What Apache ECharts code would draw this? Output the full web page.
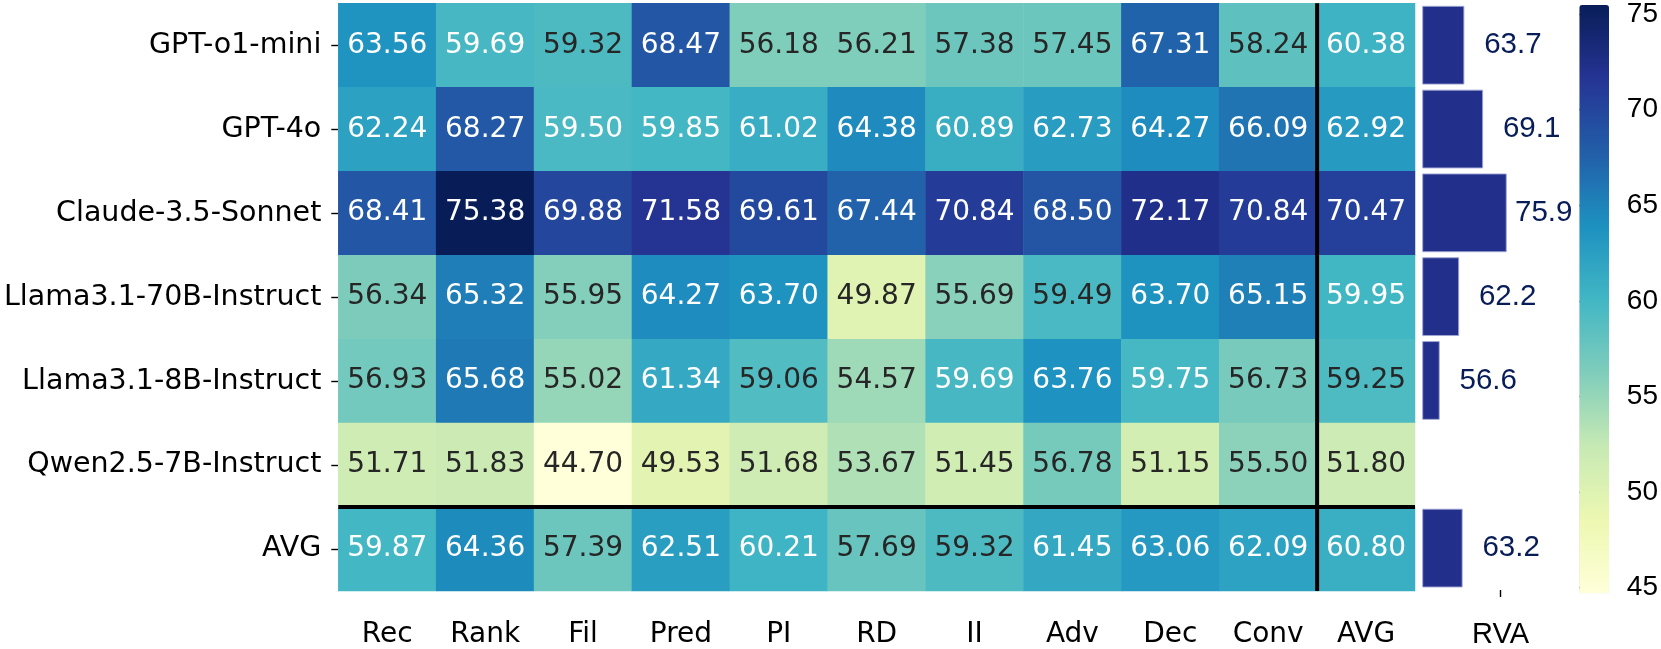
<!DOCTYPE html>
<html><head><meta charset="utf-8">
<script src="https://cdn.jsdelivr.net/npm/echarts@6/dist/echarts.min.js"></script>
<style>html,body{margin:0;padding:0;background:#fff;}#c{width:1661px;height:649px;}</style>
</head><body><div id="c"></div>
<script>
const models = ['GPT-o1-mini','GPT-4o','Claude-3.5-Sonnet','Llama3.1-70B-Instruct','Llama3.1-8B-Instruct','Qwen2.5-7B-Instruct','AVG'];
const tasks = ['Rec','Rank','Fil','Pred','PI','RD','II','Adv','Dec','Conv','AVG'];
const gptO1mini = [63.56,59.69,59.32,68.47,56.18,56.21,57.38,57.45,67.31,58.24,60.38];
const gpt4o     = [62.24,68.27,59.50,59.85,61.02,64.38,60.89,62.73,64.27,66.09,62.92];
const claude35  = [68.41,75.38,69.88,71.58,69.61,67.44,70.84,68.50,72.17,70.84,70.47];
const llama70b  = [56.34,65.32,55.95,64.27,63.70,49.87,55.69,59.49,63.70,65.15,59.95];
const llama8b   = [56.93,65.68,55.02,61.34,59.06,54.57,59.69,63.76,59.75,56.73,59.25];
const qwen7b    = [51.71,51.83,44.70,49.53,51.68,53.67,51.45,56.78,51.15,55.50,51.80];
const avgRow    = [59.87,64.36,57.39,62.51,60.21,57.69,59.32,61.45,63.06,62.09,60.80];
const rva = [63.7,69.1,75.9,62.2,56.6,51.7,63.2];
const colorTicks = [45,50,55,60,65,70,75];
const colorMin = 44.70, colorMax = 75.38;

const rows = [gptO1mini,gpt4o,claude35,llama70b,llama8b,qwen7b,avgRow];
const ylgnbu = ['#ffffd9','#edf8b1','#c7e9b4','#7fcdbb','#41b6c4','#1d91c0','#225ea8','#253494','#081d58'];
const FONT = 'DejaVu Sans';

const heatData = [];
rows.forEach((r, yi) => r.forEach((v, xi) => {
  heatData.push({value:[xi, yi, v], label:{color: v < 59.495 ? '#262626' : '#ffffff'}});
}));

const barData = rva.map(v => ({value:v, label:{distance: v > 75 ? 37 : 48.5}}));

const nCols = tasks.length, nRows = models.length;
const vLine = [[nCols-1, 0],[nCols-1, nRows]];
const hLine = [[0, nRows-1],[nCols, nRows-1]];

const G0 = {left:338.3, top:3.3, width:1076.7, height:588.4};
const G1 = {left:1422.7, top:3.3, width:155.6, height:588.4};
const G2 = {left:1579.3, top:5, width:29.7, height:588.3};

const tickStyle = {show:true, length:7, lineStyle:{color:'#000', width:1.4}};

const option = {
  animation:false,
  backgroundColor:'#fff',
  grid:[G0, G1, G2],
  visualMap:{
    type:'continuous', min:colorMin, max:colorMax, seriesIndex:0,
    calculable:false, left:G2.left, top:G2.top, itemWidth:G2.width, itemHeight:G2.height,
    text:['',''], padding:0, showLabel:false, inRange:{color:ylgnbu}
  },
  xAxis:[
    {gridIndex:0, type:'category', data:tasks, position:'bottom',
     axisLine:{show:false}, axisTick:Object.assign({alignWithLabel:true}, tickStyle),
     axisLabel:{fontFamily:FONT, fontSize:28, color:'#000', margin:30}, splitLine:{show:false}},
    {gridIndex:0, type:'value', min:0, max:nCols, show:false},
    {gridIndex:1, type:'value', min:51.7, max:96.5, show:false},
    {gridIndex:1, type:'category', data:['RVA'], position:'bottom',
     axisLine:{show:false}, axisTick:Object.assign({alignWithLabel:true}, tickStyle),
     axisLabel:{fontFamily:'Liberation Sans', fontSize:29, color:'#000', margin:30}},
    {gridIndex:2, type:'value', show:false}
  ],
  yAxis:[
    {gridIndex:0, type:'category', data:models, inverse:true,
     axisLine:{show:false}, axisTick:Object.assign({alignWithLabel:true}, tickStyle),
     axisLabel:{fontFamily:FONT, fontSize:28.5, color:'#000', margin:17}},
    {gridIndex:0, type:'value', min:0, max:nRows, inverse:true, show:false},
    {gridIndex:1, type:'category', data:models, inverse:true, show:false},
    {gridIndex:2, type:'value', min:colorMin, max:colorMax, position:'right',
     axisLine:{show:false}, splitLine:{show:false},
     axisTick:{show:true, length:7, lineStyle:{color:'#000', width:1.4}, customValues:colorTicks},
     axisLabel:{fontFamily:'Liberation Sans', fontSize:28, color:'#000', margin:19, customValues:colorTicks}}
  ],
  series:[
    {type:'heatmap', xAxisIndex:0, yAxisIndex:0, data:heatData,
     label:{show:true, fontFamily:FONT, fontSize:28, formatter:p => p.value[2].toFixed(2)},
     itemStyle:{borderWidth:0}, emphasis:{disabled:true}},
    {type:'line', xAxisIndex:1, yAxisIndex:1, data:vLine, symbol:'none', silent:true, z:10,
     lineStyle:{color:'#000', width:4}},
    {type:'line', xAxisIndex:1, yAxisIndex:1, data:hLine, symbol:'none', silent:true, z:10,
     lineStyle:{color:'#000', width:4}},
    {type:'bar', xAxisIndex:2, yAxisIndex:2, data:barData, barWidth:'94%', barMinHeight:1,
     itemStyle:{color:'#22308b', borderColor:'rgba(160,166,212,0.9)', borderWidth:1},
     label:{show:true, position:'right', align:'center', fontFamily:'Liberation Sans', fontSize:29.5, color:'#081d58',
       formatter:p => p.value.toFixed(1)},
     silent:true}
  ]
};
echarts.init(document.getElementById('c'), null, {renderer:'canvas'}).setOption(option);
</script></body></html>
